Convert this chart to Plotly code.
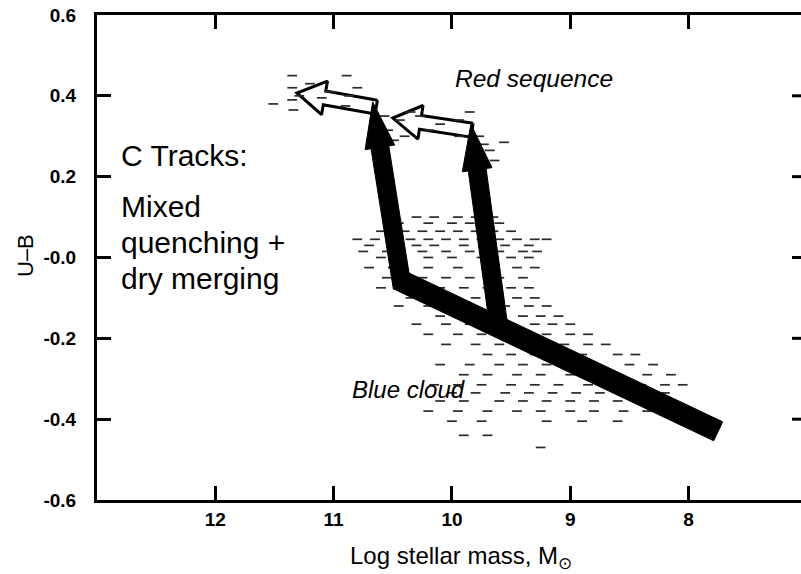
import numpy as np
import plotly.graph_objects as go

# ---------------- data ----------------
x_tick_vals = [12, 11, 10, 9, 8]
x_tick_text = ["12", "11", "10", "9", "8"]
y_tick_vals = [0.6, 0.4, 0.2, 0.0, -0.2, -0.4, -0.6]
y_tick_text = ["0.6", "0.4", "0.2", "-0.0", "-0.2", "-0.4", "-0.6"]

# red-sequence galaxies (log mass, U-B)
red_x = [11.35, 10.89, 11.35, 11.35, 11.34, 11.51, 11.03, 10.87, 10.90, 10.57,
         10.54, 10.49, 10.44, 10.40, 10.27, 10.19, 10.10, 9.94, 9.94, 9.77,
         9.73, 9.68, 9.56, 9.64, 11.20, 11.29, 11.10, 10.80, 10.35, 9.85]
red_y = [0.45, 0.45, 0.42, 0.39, 0.365, 0.38, 0.41, 0.40, 0.375, 0.35,
         0.315, 0.29, 0.34, 0.30, 0.35, 0.315, 0.33, 0.34, 0.30, 0.30,
         0.28, 0.265, 0.285, 0.24, 0.43, 0.40, 0.395, 0.42, 0.36, 0.36]

# blue-cloud galaxies (log mass, U-B), read row by row
blue_x = [
    10.3, 10.15, 9.95, 9.8, 9.65,
    10.45, 10.2, 10.0, 9.85, 9.7, 9.6,
    10.6, 10.4, 10.25, 10.1, 9.95, 9.8, 9.65, 9.5,
    10.8, 10.65, 10.5, 10.35, 10.2, 10.05, 9.9, 9.75, 9.6, 9.45, 9.3, 9.2,
    10.7, 10.3, 10.15, 9.9, 9.7, 9.55, 9.35,
    10.75, 10.55, 10.25, 10.05, 9.85, 9.6, 9.4, 9.28,
    10.6, 10.2, 10.0, 9.75, 9.5, 9.35,
    10.7, 10.5, 10.2, 9.95, 9.7, 9.45, 9.3,
    10.55, 10.25, 10.05, 9.85, 9.6, 9.4,
    10.6, 10.3, 10.1, 9.9, 9.7, 9.5, 9.35,
    10.35, 10.1, 9.8, 9.65, 9.45, 9.3,
    10.45, 10.2, 10.0, 9.55, 9.35, 9.2,
    10.1, 9.9, 9.4, 9.25, 9.1,
    10.3, 10.05, 9.85, 9.3, 9.15, 9.0,
    10.2, 9.95, 9.75, 9.5, 9.2, 9.0, 8.85,
    10.05, 9.8, 9.6, 9.4, 9.05, 8.85, 8.7,
    9.7, 9.5, 9.3, 9.1, 8.9, 8.6, 8.45,
    10.1, 9.85, 9.6, 9.4, 9.2, 8.95, 8.5, 8.3,
    9.9, 9.7, 9.45, 9.25, 9.0, 8.8, 8.6, 8.35, 8.15,
    10.15, 9.95, 9.75, 9.5, 9.3, 9.1, 8.85, 8.6, 8.4, 8.2, 8.05,
    10.0, 9.8, 9.55, 9.35, 9.15, 8.95, 8.75, 8.55, 8.35, 8.2,
    10.1, 9.9, 9.6, 9.4, 9.2, 9.0, 8.8, 8.6, 8.45,
    10.2, 9.95, 9.7, 9.45, 9.25, 9.0, 8.8, 8.55, 8.35,
    10.0, 9.75, 9.2, 8.9, 8.6,
    9.9, 9.7,
    9.25,
]
blue_y = (
    [0.10] * 5 + [0.085] * 6 + [0.065] * 8 + [0.045] * 12 + [0.03] * 7 +
    [0.015] * 8 + [0.0] * 6 + [-0.025] * 7 + [-0.05] * 6 + [-0.075] * 7 +
    [-0.10] * 6 + [-0.12] * 6 + [-0.145] * 5 + [-0.165] * 6 + [-0.19] * 7 +
    [-0.215] * 7 + [-0.24] * 7 + [-0.265] * 8 + [-0.29] * 9 + [-0.315] * 11 +
    [-0.335] * 10 + [-0.355] * 9 + [-0.38] * 9 + [-0.405] * 5 + [-0.44] * 2 +
    [-0.47] * 1
)

# evolutionary tracks (start -> end, in data units)
band_x = [7.75, 10.45]
band_y = [-0.43, -0.055]
quench_a_x = [10.42, 10.67]
quench_a_y = [-0.075, 0.385]
quench_b_x = [9.6, 9.84]
quench_b_y = [-0.18, 0.33]
merge_a_x = [10.64, 11.31]
merge_a_y = [0.372, 0.407]
merge_b_x = [9.83, 10.50]
merge_b_y = [0.315, 0.345]

# ---------------- layout geometry ----------------
W, H = 801, 574
ML, MR, MT, MB = 97, 0, 15, 74
XR = (13.0, 7.05)
YR = (-0.6, 0.6)
PW = W - ML - MR
PH = H - MT - MB


def to_px(x, y):
    return np.array([(x - XR[0]) / (XR[1] - XR[0]) * PW,
                     (YR[1] - y) / (YR[1] - YR[0]) * PH])


def to_data(p):
    return (XR[0] + p[0] / PW * (XR[1] - XR[0]),
            YR[1] - p[1] / PH * (YR[1] - YR[0]))


def arrow_poly(xs, ys, shaft, head_w=None, head_l=None):
    p0 = to_px(xs[0], ys[0])
    p1 = to_px(xs[1], ys[1])
    d = p1 - p0
    u = d / np.linalg.norm(d)
    n = np.array([-u[1], u[0]])
    if head_w is None:
        pts = [p0 + n * shaft / 2, p1 + n * shaft / 2, p1 - n * shaft / 2,
               p0 - n * shaft / 2, p0 + n * shaft / 2]
    else:
        b = p1 - u * head_l
        pts = [p0 + n * shaft / 2, b + n * shaft / 2, b + n * head_w / 2, p1,
               b - n * head_w / 2, b - n * shaft / 2, p0 - n * shaft / 2,
               p0 + n * shaft / 2]
    dx, dy = zip(*[to_data(p) for p in pts])
    return list(dx), list(dy)


fig = go.Figure()

# white (hollow) dry-merging arrows
for tx, ty in [(merge_a_x, merge_a_y), (merge_b_x, merge_b_y)]:
    px_, py_ = arrow_poly(tx, ty, 14, 34, 28)
    fig.add_trace(go.Scatter(x=px_, y=py_, mode="lines", fill="toself",
                             fillcolor="white",
                             line=dict(color="black", width=3),
                             hoverinfo="skip", showlegend=False))

# galaxies
dash_marker = dict(symbol="line-ew", size=7, color="#2a2a2a",
                   line=dict(color="#2a2a2a", width=1.7))
fig.add_trace(go.Scatter(x=red_x, y=red_y, mode="markers", marker=dash_marker,
                         hoverinfo="skip", showlegend=False))
fig.add_trace(go.Scatter(x=blue_x, y=blue_y, mode="markers", marker=dash_marker,
                         hoverinfo="skip", showlegend=False))

# black tracks
shapes_black = [arrow_poly(band_x, band_y, 21),
                arrow_poly(quench_a_x, quench_a_y, 18, 30, 46),
                arrow_poly(quench_b_x, quench_b_y, 18, 30, 46)]
for px_, py_ in shapes_black:
    fig.add_trace(go.Scatter(x=px_, y=py_, mode="lines", fill="toself",
                             fillcolor="black",
                             line=dict(color="black", width=1),
                             hoverinfo="skip", showlegend=False))

FONT = "Liberation Sans, Arial, sans-serif"


def pxx(sx):
    return (sx - ML) / PW


def pxy(sy):
    return (H - MB - sy) / PH


annos = [
    dict(text="C Tracks:", x=pxx(119), y=pxy(155), font=dict(size=30)),
    dict(text="Mixed", x=pxx(119), y=pxy(206), font=dict(size=30)),
    dict(text="quenching +", x=pxx(119), y=pxy(242), font=dict(size=30)),
    dict(text="dry merging", x=pxx(119), y=pxy(278), font=dict(size=30)),
    dict(text="<i>Red sequence</i>", x=pxx(534), y=pxy(79), xanchor="center",
         font=dict(size=24.5)),
    dict(text="<i>Blue cloud</i>", x=pxx(408), y=pxy(389), xanchor="center",
         font=dict(size=24)),
    dict(text="Log stellar mass, M<sub>⊙</sub>", x=pxx(461), y=pxy(557),
         xanchor="center", font=dict(size=24)),
    dict(text="U–B", x=pxx(25), y=pxy(256), xanchor="center",
         textangle=-90, font=dict(size=22)),
]
for a in annos:
    a.setdefault("xanchor", "left")
    a.update(xref="paper", yref="paper", showarrow=False, yanchor="middle")
    a["font"].update(family=FONT, color="black")

# right-hand inside tick marks (mirrored y ticks, no axis line)
right_ticks = [dict(type="line", xref="paper", yref="y", x0=1 - 9 / PW, x1=1.0,
                    y0=v, y1=v, line=dict(color="black", width=3))
               for v in y_tick_vals[1:-1]]

fig.update_layout(
    width=W, height=H,
    margin=dict(l=ML, r=MR, t=MT, b=MB, pad=0),
    paper_bgcolor="white", plot_bgcolor="white",
    font=dict(family=FONT, color="black", size=18),
    annotations=annos,
    shapes=right_ticks,
    xaxis=dict(range=list(XR), tickvals=x_tick_vals, ticktext=x_tick_text,
               ticks="inside", ticklen=14, tickwidth=3, tickcolor="black",
               showline=True, linewidth=3, linecolor="black", mirror="ticks",
               showgrid=False, zeroline=False,
               tickfont=dict(size=19, family=FONT, weight="bold"),
               ticklabelstandoff=0),
    yaxis=dict(range=list(YR), tickvals=y_tick_vals, ticktext=y_tick_text,
               ticks="inside", ticklen=14, tickwidth=3, tickcolor="black",
               showline=True, linewidth=3, linecolor="black",
               showgrid=False, zeroline=False,
               tickfont=dict(size=19, family=FONT, weight="bold"),
               ticklabelstandoff=14),
)

fig.write_html("out.html",
               config={"displayModeBar": False},
               post_script="document.body.style.margin='0';"
                           "document.body.style.overflow='hidden';")
